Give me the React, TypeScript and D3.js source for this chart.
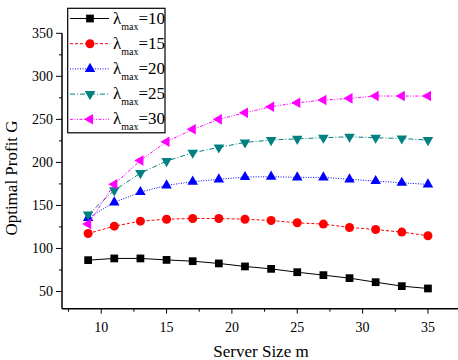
import { useRef, useEffect } from 'react';
import * as d3 from 'd3';

// server sizes (x) and optimal profit per lambda_max
const serverSizes = [9, 11, 13, 15, 17, 19, 21, 23, 25, 27, 29, 31, 33, 35];
const profit10 = [86.4, 88.4, 88.4, 86.7, 85.2, 82.6, 79.1, 76.3, 72.4, 69.0, 65.5, 60.8, 56.2, 53.5];
const profit15 = [117.4, 125.9, 131.7, 134.0, 134.8, 134.8, 134.0, 132.5, 129.8, 128.3, 124.4, 122.0, 119.0, 114.7];
const profit20 = [135.5, 153.5, 165.5, 173.3, 177.6, 180.3, 183.0, 183.4, 182.6, 182.6, 180.3, 178.3, 176.3, 174.4];
const profit25 = [139.5, 167.5, 187.5, 201.5, 211.2, 217.4, 223.2, 225.9, 227.4, 228.6, 229.8, 228.6, 227.8, 225.9];
const profit30 = [128.3, 174.6, 202.3, 224.0, 238.4, 250.0, 257.7, 264.7, 269.3, 272.4, 274.4, 277.1, 277.1, 277.1];
const lambdaLabels = ['10', '15', '20', '25', '30'];
const xTicks = [10, 15, 20, 25, 30, 35];
const yTicks = [50, 100, 150, 200, 250, 300, 350];

export default function App() {
  const svgRef = useRef(null);

  useEffect(() => {
    if (!svgRef.current) return;
    const svg = d3.select(svgRef.current);
    svg.selectAll('*').remove();

    const font = '"Liberation Serif", "Times New Roman", serif';
    const x = d3.scaleLinear().domain([7, 37.3]).range([62, 458]);
    const y = d3.scaleLinear().domain([30, 350]).range([308.7, 33.3]);

    const series = [
      { values: profit10, color: '#000000', dash: null, symbol: d3.symbolSquare, size: 60, rot: 0 },
      { values: profit15, color: '#ff0000', dash: '3,2', symbol: d3.symbolCircle, size: 64, rot: 0 },
      { values: profit20, color: '#0000ff', dash: '1,1.5', symbol: d3.symbolTriangle, size: 48, rot: 0 },
      { values: profit25, color: '#008080', dash: '5,2,1,2', symbol: d3.symbolTriangle, size: 48, rot: 180 },
      { values: profit30, color: '#ff00ff', dash: '3,1.5,1,1.5,1,1.5', symbol: d3.symbolTriangle, size: 48, rot: -90 },
    ];

    // axes
    const xAxis = svg.append('g').attr('transform', 'translate(0,308.7)');
    xAxis.append('line').attr('x1', 62).attr('x2', 458).attr('stroke', '#000').attr('stroke-width', 1.5);
    d3.range(7.5, 37.3, 2.5).forEach((t) => {
      const major = t % 5 === 0;
      xAxis.append('line')
        .attr('x1', x(t)).attr('x2', x(t))
        .attr('y1', 0).attr('y2', major ? 5 : 3)
        .attr('stroke', '#000').attr('stroke-width', 1);
    });
    xAxis.selectAll('text.tick')
      .data(xTicks)
      .enter()
      .append('text')
      .attr('x', (d) => x(d))
      .attr('y', 23)
      .attr('text-anchor', 'middle')
      .attr('font-family', font)
      .attr('font-size', 14)
      .text((d) => d);

    const yAxis = svg.append('g').attr('transform', 'translate(62,0)');
    yAxis.append('line').attr('y1', y(350)).attr('y2', 308.7).attr('stroke', '#000').attr('stroke-width', 1.5);
    d3.range(50, 351, 25).forEach((t) => {
      const major = t % 50 === 0;
      yAxis.append('line')
        .attr('x1', major ? -6 : -3).attr('x2', 0)
        .attr('y1', y(t)).attr('y2', y(t))
        .attr('stroke', '#000').attr('stroke-width', 1);
    });
    yAxis.selectAll('text.tick')
      .data(yTicks)
      .enter()
      .append('text')
      .attr('x', -9)
      .attr('y', (d) => y(d) + 5)
      .attr('text-anchor', 'end')
      .attr('font-family', font)
      .attr('font-size', 14)
      .text((d) => d);

    // axis titles
    svg.append('text')
      .attr('x', 261).attr('y', 357)
      .attr('text-anchor', 'middle')
      .attr('font-family', font).attr('font-size', 17)
      .text('Server Size m');
    svg.append('text')
      .attr('transform', 'translate(17,178) rotate(-90)')
      .attr('text-anchor', 'middle')
      .attr('font-family', font).attr('font-size', 17)
      .text('Optimal Profit G');

    // lines and markers
    const line = d3.line<number>().x((d, i) => x(serverSizes[i])).y((d) => y(d));
    series.forEach((s) => {
      svg.append('path')
        .attr('d', line(s.values))
        .attr('fill', 'none')
        .attr('stroke', s.color)
        .attr('stroke-width', 1)
        .attr('stroke-dasharray', s.dash);
      svg.append('g')
        .selectAll('path')
        .data(s.values)
        .enter()
        .append('path')
        .attr('d', d3.symbol().type(s.symbol).size(s.size)())
        .attr('transform', (d, i) => `translate(${x(serverSizes[i])},${y(d)}) rotate(${s.rot})`)
        .attr('fill', s.color);
    });

    // legend
    const legend = svg.append('g');
    legend.append('rect')
      .attr('x', 67.7).attr('y', 8.3)
      .attr('width', 97.3).attr('height', 124.5)
      .attr('fill', '#fff').attr('stroke', '#000').attr('stroke-width', 1.2);
    series.forEach((s, i) => {
      const cy = 18.5 + i * 25.2;
      legend.append('line')
        .attr('x1', 70).attr('x2', 109)
        .attr('y1', cy).attr('y2', cy)
        .attr('stroke', s.color).attr('stroke-width', 1)
        .attr('stroke-dasharray', s.dash);
      legend.append('path')
        .attr('d', d3.symbol().type(s.symbol).size(s.size)())
        .attr('transform', `translate(90,${cy}) rotate(${s.rot})`)
        .attr('fill', s.color);
      const t = legend.append('text')
        .attr('x', 113).attr('y', cy + 5)
        .attr('font-family', font).attr('font-size', 17);
      t.append('tspan').text('λ');
      t.append('tspan').attr('font-size', 10).attr('dy', 6).text('max');
      t.append('tspan').attr('dy', -6).text('=' + lambdaLabels[i]);
    });
  }, []);

  return (
    <svg
      ref={svgRef}
      width="458"
      height="360"
      viewBox="0 0 458 360"
      style={{ position: 'absolute', left: 0, top: 0, background: '#fff' }}
    />
  );
}
